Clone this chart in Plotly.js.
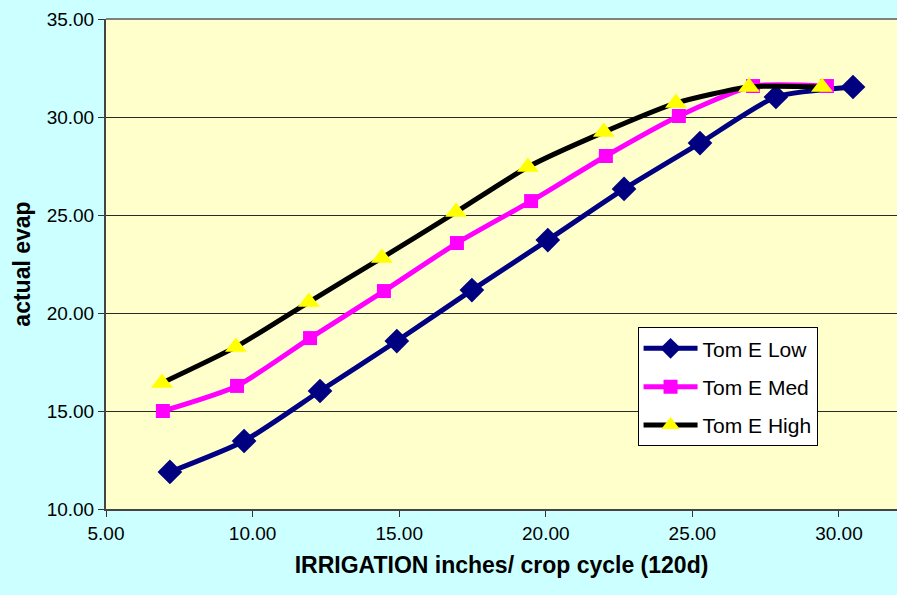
<!DOCTYPE html>
<html>
<head>
<meta charset="utf-8">
<script src="https://cdn.plot.ly/plotly-3.0.1.min.js"></script>
<style>
  html, body { margin: 0; padding: 0; background: #CCFFFF; }
  #chart { width: 897px; height: 595px; }
</style>
</head>
<body>
<div id="chart"></div>
<script>
const seriesNames = ["Tom E Low", "Tom E Med", "Tom E High"];

const lowX  = [7.18, 9.71, 12.30, 14.92, 17.48, 20.07, 22.67, 25.26, 27.85, 30.48];
const lowY  = [11.89, 13.47, 16.02, 18.57, 21.17, 23.72, 26.33, 28.67, 31.02, 31.53];

const medX  = [6.94, 9.47, 11.96, 14.48, 16.97, 19.50, 22.05, 24.54, 27.07, 29.59];
const medY  = [15.00, 16.28, 18.72, 21.12, 23.57, 25.71, 28.01, 30.05, 31.58, 31.58];

const highX = [6.91, 9.43, 11.92, 14.41, 16.94, 19.39, 21.98, 24.44, 26.93, 29.42];
const highY = [16.43, 18.27, 20.56, 22.81, 25.15, 27.45, 29.23, 30.71, 31.53, 31.53];

const yTicks = [10, 15, 20, 25, 30, 35];
const xTicks = [5, 10, 15, 20, 25, 30];

const traces = [
  {
    x: lowX, y: lowY, name: seriesNames[0], legendgroup: "a", type: "scatter", mode: "lines+markers",
    line: { color: "#000080", width: 5, shape: "spline", smoothing: 0.6 },
    marker: { symbol: "diamond", size: 19, color: "#000080" }
  },
  {
    x: medX, y: medY, name: seriesNames[1], legendgroup: "b", type: "scatter", mode: "lines+markers",
    line: { color: "#FF00FF", width: 5, shape: "spline", smoothing: 0.6 },
    marker: { symbol: "square", size: 14, color: "#FF00FF" }
  },
  {
    x: highX, y: highY, name: seriesNames[2], legendgroup: "c", type: "scatter", mode: "lines+markers",
    line: { color: "#000000", width: 5, shape: "spline", smoothing: 0.6 },
    marker: { symbol: "triangle-up", size: 19, color: "#FFFF00" }
  }
];

const layout = {
  width: 897, height: 595,
  paper_bgcolor: "#CCFFFF",
  plot_bgcolor: "#FFFFCC",
  margin: { l: 106, r: 0, t: 19, b: 86 },
  font: { family: "Arial, 'Liberation Sans', sans-serif", size: 18, color: "#000000" },
  showlegend: true,
  legend: {
    x: 0.672, y: 0.371, xanchor: "left", yanchor: "top",
    bgcolor: "#FFFFFF", bordercolor: "#000000", borderwidth: 1,
    font: { size: 21, color: "#000000" },
    traceorder: "grouped", tracegroupgap: 8, itemwidth: 54
  },
  xaxis: {
    range: [5, 31.98],
    tickvals: xTicks,
    ticktext: xTicks.map(v => v.toFixed(2)),
    ticks: "outside", ticklen: 6, tickcolor: "#333333", tickwidth: 1,
    showline: true, linecolor: "#444444", linewidth: 2,
    showgrid: false, zeroline: false,
    tickfont: { size: 19 },
    title: { text: "<b>IRRIGATION inches/ crop cycle (120d)</b>", font: { size: 23 }, standoff: 14 }
  },
  yaxis: {
    range: [10, 35],
    tickvals: yTicks,
    ticktext: yTicks.map(v => v.toFixed(2)),
    ticks: "outside", ticklen: 6, tickcolor: "#333333", tickwidth: 1,
    showline: true, linecolor: "#444444", linewidth: 2,
    showgrid: true, gridcolor: "#2a2a2a", gridwidth: 1,
    zeroline: false,
    tickfont: { size: 19 },
    title: { text: "<b>actual evap</b>", font: { size: 23 }, standoff: 10 }
  },
  shapes: [
    { type: "line", xref: "paper", yref: "paper", x0: 0, x1: 1, y0: 1, y1: 1,
      line: { color: "#808080", width: 2 } }
  ]
};

Plotly.newPlot("chart", traces, layout, { displayModeBar: false, staticPlot: true });
</script>
</body>
</html>
